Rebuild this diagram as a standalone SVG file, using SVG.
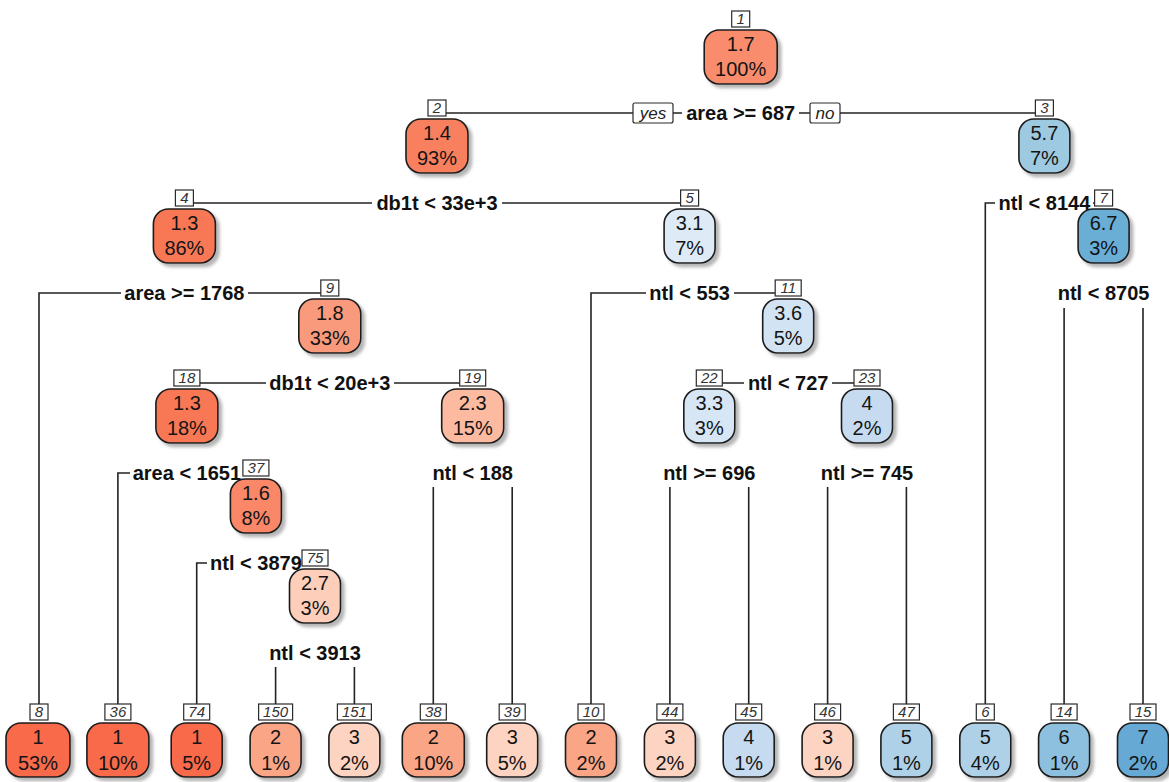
<svg xmlns="http://www.w3.org/2000/svg" width="1169" height="782" viewBox="0 0 1169 782">
  <defs>
    <filter id="shadow" x="-20%" y="-20%" width="150%" height="150%">
      <feDropShadow dx="3.5" dy="3.5" stdDeviation="1.6" flood-color="#7a7a7a" flood-opacity="0.55"/>
    </filter>
  </defs>
  <style>
    .box { stroke: #1c1c1c; stroke-width: 1.6; filter: url(#shadow); }
    .val { font-family: "Liberation Sans", Arial, sans-serif; font-size: 20px; fill: #141414; text-anchor: middle; }
    .nlab { fill: #ffffff; stroke: #2a2a2a; stroke-width: 1.2; }
    .num { font-family: "Liberation Sans", Arial, sans-serif; font-size: 15px; font-style: italic; fill: #333333; text-anchor: middle; }
    .edge { fill: none; stroke: #222222; stroke-width: 1.6; }
    .split { font-family: "Liberation Sans", Arial, sans-serif; font-size: 20px; font-weight: bold; fill: #111111; text-anchor: middle; }
    .bg { fill: #ffffff; }
    .yn { fill: #ffffff; stroke: #2a2a2a; stroke-width: 1.2; }
    .yntxt { font-family: "Liberation Sans", Arial, sans-serif; font-size: 17px; font-style: italic; fill: #222222; text-anchor: middle; }
  </style>

  <rect width="1169" height="782" fill="#ffffff"/>

  <!-- connectors -->
  <g id="connectors">
    <path class="edge" d="M437 113 H1044.4"/>
    <path class="edge" d="M184.4 203 H689.6"/>
    <path class="edge" d="M985.3 704 V203 H1103.6"/>
    <path class="edge" d="M39 704 V293 H329.8"/>
    <path class="edge" d="M591 704 V293 H788.2"/>
    <path class="edge" d="M1064.1 308 V704 M1143 308 V704"/>
    <path class="edge" d="M186.9 383 H472.7"/>
    <path class="edge" d="M709.3 383 H867"/>
    <path class="edge" d="M117.9 704 V473 H255.9"/>
    <path class="edge" d="M433.3 487 V704 M512.2 487 V704"/>
    <path class="edge" d="M669.9 487 V704 M748.7 487 V704"/>
    <path class="edge" d="M827.6 487 V704 M906.4 487 V704"/>
    <path class="edge" d="M196.7 704 V563 H315"/>
    <path class="edge" d="M275.6 667 V704 M354.4 667 V704"/>

    <!-- yes / no tags on the first split -->
    <rect class="yn" x="633" y="103" width="40" height="20" rx="2"/>
    <text class="yntxt" x="653" y="119">yes</text>
    <rect class="yn" x="810" y="103" width="30" height="20" rx="2"/>
    <text class="yntxt" x="825" y="119">no</text>

    <!-- split labels -->
    <rect class="bg" x="682" y="103" width="117" height="20"/>
    <text class="split" x="740.7" y="120">area &gt;= 687</text>
    <rect class="bg" x="372" y="193" width="130" height="20"/>
    <text class="split" x="437" y="210">db1t &lt; 33e+3</text>
    <rect class="bg" x="995" y="193" width="98" height="20"/>
    <text class="split" x="1044.4" y="210">ntl &lt; 8144</text>
    <rect class="bg" x="121" y="283" width="127" height="20"/>
    <text class="split" x="184.4" y="300">area &gt;= 1768</text>
    <rect class="bg" x="646" y="283" width="88" height="20"/>
    <text class="split" x="689.6" y="300">ntl &lt; 553</text>
    <text class="split" x="1103.6" y="300">ntl &lt; 8705</text>
    <rect class="bg" x="266" y="373" width="128" height="20"/>
    <text class="split" x="329.8" y="390">db1t &lt; 20e+3</text>
    <rect class="bg" x="744" y="373" width="88" height="20"/>
    <text class="split" x="788.2" y="390">ntl &lt; 727</text>
    <rect class="bg" x="130" y="463" width="113" height="20"/>
    <text class="split" x="186.9" y="480">area &lt; 1651</text>
    <text class="split" x="472.7" y="480">ntl &lt; 188</text>
    <text class="split" x="709.3" y="480">ntl &gt;= 696</text>
    <text class="split" x="867" y="480">ntl &gt;= 745</text>
    <rect class="bg" x="207" y="553" width="96" height="20"/>
    <text class="split" x="255.9" y="570">ntl &lt; 3879</text>
    <text class="split" x="315" y="660">ntl &lt; 3913</text>
  </g>

  <!-- internal nodes -->
  <g id="node-1">
    <rect class="box" x="704.2" y="30" width="73" height="54" rx="15" fill="#F88C6D"/>
    <text class="val" x="740.7" y="51">1.7</text>
    <text class="val" x="740.7" y="76">100%</text>
    <rect class="nlab" x="731.7" y="11" width="18" height="16"/>
    <text class="num" x="740.7" y="24">1</text>
  </g>
  <g id="node-2">
    <rect class="box" x="406" y="119" width="62" height="54" rx="15" fill="#F9805E"/>
    <text class="val" x="437" y="140">1.4</text>
    <text class="val" x="437" y="165">93%</text>
    <rect class="nlab" x="428" y="100" width="18" height="16"/>
    <text class="num" x="437" y="113">2</text>
  </g>
  <g id="node-3">
    <rect class="box" x="1018.9" y="119" width="51" height="54" rx="15" fill="#9ECAE1"/>
    <text class="val" x="1044.4" y="140">5.7</text>
    <text class="val" x="1044.4" y="165">7%</text>
    <rect class="nlab" x="1035.4" y="100" width="18" height="16"/>
    <text class="num" x="1044.4" y="113">3</text>
  </g>
  <g id="node-4">
    <rect class="box" x="153.4" y="209" width="62" height="54" rx="15" fill="#F87856"/>
    <text class="val" x="184.4" y="230">1.3</text>
    <text class="val" x="184.4" y="255">86%</text>
    <rect class="nlab" x="175.4" y="190" width="18" height="16"/>
    <text class="num" x="184.4" y="203">4</text>
  </g>
  <g id="node-5">
    <rect class="box" x="664.1" y="209" width="51" height="54" rx="15" fill="#DEEBF7"/>
    <text class="val" x="689.6" y="230">3.1</text>
    <text class="val" x="689.6" y="255">7%</text>
    <rect class="nlab" x="680.6" y="190" width="18" height="16"/>
    <text class="num" x="689.6" y="203">5</text>
  </g>
  <g id="node-7">
    <rect class="box" x="1078.1" y="209" width="51" height="54" rx="15" fill="#6BAED6"/>
    <text class="val" x="1103.6" y="230">6.7</text>
    <text class="val" x="1103.6" y="255">3%</text>
    <rect class="nlab" x="1094.6" y="190" width="18" height="16"/>
    <text class="num" x="1103.6" y="203">7</text>
  </g>
  <g id="node-9">
    <rect class="box" x="298.8" y="299" width="62" height="54" rx="15" fill="#FA9A7C"/>
    <text class="val" x="329.8" y="320">1.8</text>
    <text class="val" x="329.8" y="345">33%</text>
    <rect class="nlab" x="320.8" y="280" width="18" height="16"/>
    <text class="num" x="329.8" y="293">9</text>
  </g>
  <g id="node-11">
    <rect class="box" x="762.7" y="299" width="51" height="54" rx="15" fill="#D2E3F3"/>
    <text class="val" x="788.2" y="320">3.6</text>
    <text class="val" x="788.2" y="345">5%</text>
    <rect class="nlab" x="775.2" y="280" width="26" height="16"/>
    <text class="num" x="788.2" y="293">11</text>
  </g>
  <g id="node-18">
    <rect class="box" x="155.9" y="389" width="62" height="54" rx="15" fill="#F87856"/>
    <text class="val" x="186.9" y="410">1.3</text>
    <text class="val" x="186.9" y="435">18%</text>
    <rect class="nlab" x="173.9" y="370" width="26" height="16"/>
    <text class="num" x="186.9" y="383">18</text>
  </g>
  <g id="node-19">
    <rect class="box" x="441.7" y="389" width="62" height="54" rx="15" fill="#FCBBA1"/>
    <text class="val" x="472.7" y="410">2.3</text>
    <text class="val" x="472.7" y="435">15%</text>
    <rect class="nlab" x="459.7" y="370" width="26" height="16"/>
    <text class="num" x="472.7" y="383">19</text>
  </g>
  <g id="node-22">
    <rect class="box" x="683.8" y="389" width="51" height="54" rx="15" fill="#D6E6F4"/>
    <text class="val" x="709.3" y="410">3.3</text>
    <text class="val" x="709.3" y="435">3%</text>
    <rect class="nlab" x="696.3" y="370" width="26" height="16"/>
    <text class="num" x="709.3" y="383">22</text>
  </g>
  <g id="node-23">
    <rect class="box" x="841.5" y="389" width="51" height="54" rx="15" fill="#C6DBEF"/>
    <text class="val" x="867" y="410">4</text>
    <text class="val" x="867" y="435">2%</text>
    <rect class="nlab" x="854" y="370" width="26" height="16"/>
    <text class="num" x="867" y="383">23</text>
  </g>
  <g id="node-37">
    <rect class="box" x="230.4" y="479" width="51" height="54" rx="15" fill="#F98767"/>
    <text class="val" x="255.9" y="500">1.6</text>
    <text class="val" x="255.9" y="525">8%</text>
    <rect class="nlab" x="242.9" y="460" width="26" height="16"/>
    <text class="num" x="255.9" y="473">37</text>
  </g>
  <g id="node-75">
    <rect class="box" x="289.5" y="569" width="51" height="54" rx="15" fill="#FDCFBB"/>
    <text class="val" x="315" y="590">2.7</text>
    <text class="val" x="315" y="615">3%</text>
    <rect class="nlab" x="302" y="550" width="26" height="16"/>
    <text class="num" x="315" y="563">75</text>
  </g>

  <!-- leaves -->
  <g id="node-8">
    <rect class="box" x="6" y="723" width="64" height="54" rx="15" fill="#F96B4B"/>
    <text class="val" x="38" y="744">1</text>
    <text class="val" x="38" y="770">53%</text>
    <rect class="nlab" x="30" y="704" width="18" height="16"/>
    <text class="num" x="39" y="717">8</text>
  </g>
  <g id="node-36">
    <rect class="box" x="86.9" y="723" width="62" height="54" rx="15" fill="#F96B4B"/>
    <text class="val" x="117.9" y="744">1</text>
    <text class="val" x="117.9" y="770">10%</text>
    <rect class="nlab" x="104.9" y="704" width="26" height="16"/>
    <text class="num" x="117.9" y="717">36</text>
  </g>
  <g id="node-74">
    <rect class="box" x="171.2" y="723" width="51" height="54" rx="15" fill="#F96B4B"/>
    <text class="val" x="196.7" y="744">1</text>
    <text class="val" x="196.7" y="770">5%</text>
    <rect class="nlab" x="183.7" y="704" width="26" height="16"/>
    <text class="num" x="196.7" y="717">74</text>
  </g>
  <g id="node-150">
    <rect class="box" x="250.1" y="723" width="51" height="54" rx="15" fill="#FBA587"/>
    <text class="val" x="275.6" y="744">2</text>
    <text class="val" x="275.6" y="770">1%</text>
    <rect class="nlab" x="258.6" y="704" width="34" height="16"/>
    <text class="num" x="275.6" y="717">150</text>
  </g>
  <g id="node-151">
    <rect class="box" x="328.9" y="723" width="51" height="54" rx="15" fill="#FDD3C1"/>
    <text class="val" x="354.4" y="744">3</text>
    <text class="val" x="354.4" y="770">2%</text>
    <rect class="nlab" x="337.4" y="704" width="34" height="16"/>
    <text class="num" x="354.4" y="717">151</text>
  </g>
  <g id="node-38">
    <rect class="box" x="402.3" y="723" width="62" height="54" rx="15" fill="#FBA587"/>
    <text class="val" x="433.3" y="744">2</text>
    <text class="val" x="433.3" y="770">10%</text>
    <rect class="nlab" x="420.3" y="704" width="26" height="16"/>
    <text class="num" x="433.3" y="717">38</text>
  </g>
  <g id="node-39">
    <rect class="box" x="486.7" y="723" width="51" height="54" rx="15" fill="#FDD3C1"/>
    <text class="val" x="512.2" y="744">3</text>
    <text class="val" x="512.2" y="770">5%</text>
    <rect class="nlab" x="499.2" y="704" width="26" height="16"/>
    <text class="num" x="512.2" y="717">39</text>
  </g>
  <g id="node-10">
    <rect class="box" x="565.5" y="723" width="51" height="54" rx="15" fill="#FBA587"/>
    <text class="val" x="591" y="744">2</text>
    <text class="val" x="591" y="770">2%</text>
    <rect class="nlab" x="578" y="704" width="26" height="16"/>
    <text class="num" x="591" y="717">10</text>
  </g>
  <g id="node-44">
    <rect class="box" x="644.4" y="723" width="51" height="54" rx="15" fill="#FDD3C1"/>
    <text class="val" x="669.9" y="744">3</text>
    <text class="val" x="669.9" y="770">2%</text>
    <rect class="nlab" x="656.9" y="704" width="26" height="16"/>
    <text class="num" x="669.9" y="717">44</text>
  </g>
  <g id="node-45">
    <rect class="box" x="723.2" y="723" width="51" height="54" rx="15" fill="#C6DBEF"/>
    <text class="val" x="748.7" y="744">4</text>
    <text class="val" x="748.7" y="770">1%</text>
    <rect class="nlab" x="735.7" y="704" width="26" height="16"/>
    <text class="num" x="748.7" y="717">45</text>
  </g>
  <g id="node-46">
    <rect class="box" x="802.1" y="723" width="51" height="54" rx="15" fill="#FDD3C1"/>
    <text class="val" x="827.6" y="744">3</text>
    <text class="val" x="827.6" y="770">1%</text>
    <rect class="nlab" x="814.6" y="704" width="26" height="16"/>
    <text class="num" x="827.6" y="717">46</text>
  </g>
  <g id="node-47">
    <rect class="box" x="880.9" y="723" width="51" height="54" rx="15" fill="#AED1E7"/>
    <text class="val" x="906.4" y="744">5</text>
    <text class="val" x="906.4" y="770">1%</text>
    <rect class="nlab" x="893.4" y="704" width="26" height="16"/>
    <text class="num" x="906.4" y="717">47</text>
  </g>
  <g id="node-6">
    <rect class="box" x="959.8" y="723" width="51" height="54" rx="15" fill="#AED1E7"/>
    <text class="val" x="985.3" y="744">5</text>
    <text class="val" x="985.3" y="770">4%</text>
    <rect class="nlab" x="976.3" y="704" width="18" height="16"/>
    <text class="num" x="985.3" y="717">6</text>
  </g>
  <g id="node-14">
    <rect class="box" x="1038.6" y="723" width="51" height="54" rx="15" fill="#8CC0DE"/>
    <text class="val" x="1064.1" y="744">6</text>
    <text class="val" x="1064.1" y="770">1%</text>
    <rect class="nlab" x="1051.1" y="704" width="26" height="16"/>
    <text class="num" x="1064.1" y="717">14</text>
  </g>
  <g id="node-15">
    <rect class="box" x="1117.5" y="723" width="51" height="54" rx="15" fill="#65A9D4"/>
    <text class="val" x="1143" y="744">7</text>
    <text class="val" x="1143" y="770">2%</text>
    <rect class="nlab" x="1130" y="704" width="26" height="16"/>
    <text class="num" x="1143" y="717">15</text>
  </g>
</svg>
